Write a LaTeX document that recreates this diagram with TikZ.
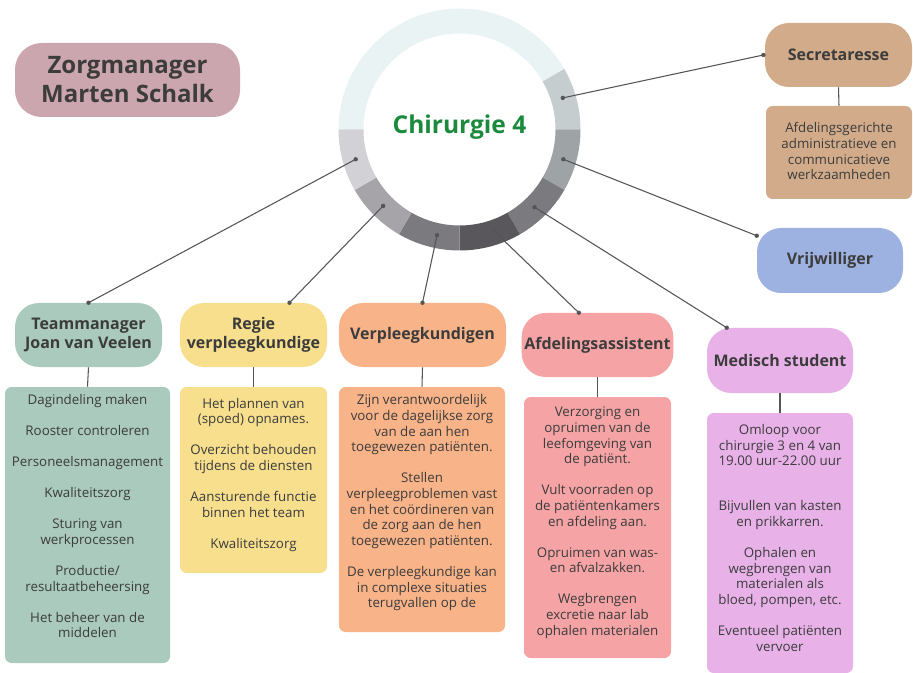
\documentclass[tikz,border=0pt]{standalone}
\usepackage{fontspec}
\setmainfont{Open Sans}
\definecolor{ringA}{HTML}{E9F3F4}
\definecolor{ringB}{HTML}{C6CDCF}
\definecolor{ringC}{HTML}{9EA3A6}
\definecolor{ringD}{HTML}{7A7A7F}
\definecolor{ringE}{HTML}{59575C}
\definecolor{ringF}{HTML}{7B7A7F}
\definecolor{ringG}{HTML}{A6A4A8}
\definecolor{ringH}{HTML}{D2D1D5}
\definecolor{zorgc}{HTML}{CCA6AE}
\definecolor{teamc}{HTML}{A9CABC}
\definecolor{regiec}{HTML}{F7DF8E}
\definecolor{verpc}{HTML}{F9B388}
\definecolor{afdc}{HTML}{F5A3A5}
\definecolor{medc}{HTML}{E8B2E9}
\definecolor{secc}{HTML}{D2AC8A}
\definecolor{vrijc}{HTML}{9EB2E1}
\definecolor{titlegreen}{HTML}{1B8A3C}
\definecolor{txt}{HTML}{3C3C3C}
\definecolor{linegray}{HTML}{555555}
\begin{document}
\begin{tikzpicture}[x=0.75pt, y=-0.75pt,
	head/.style={fill=#1, rounded corners=18pt, minimum width=110.25pt, minimum height=48pt,
		align=center, text=txt, inner sep=2pt, font=\bfseries\fontsize{12}{14.5}\selectfont},
	info/.style={fill=#1, rounded corners=5pt, inner sep=0pt},
	list/.style={align=center, text=txt, inner sep=0pt, font=\fontsize{10}{11.75}\selectfont},
	link/.style={draw=linegray, line width=0.8pt}]
	\useasboundingbox (0,0) rectangle (913,673);
	\begin{scope}[shift={(459.5,129.5)}]
		\fill[ringA] (180:121) arc[start angle=180, end angle=330, radius=121]
			-- (330:96) arc[start angle=330, end angle=180, radius=96] -- cycle;
		\foreach \a/\c [evaluate=\a as \b using \a+30] in {-30/ringB, 0/ringC, 30/ringD, 60/ringE, 90/ringF, 120/ringG, 150/ringH}
			\fill[\c] (\a:121) arc[start angle=\a, end angle=\b, radius=121]
				-- (\b:96) arc[start angle=\b, end angle=\a, radius=96] -- cycle;
		\node[text=titlegreen, font=\bfseries\fontsize{18.4}{21}\selectfont] (title) at (0,-2) {Chirurgie 4};
		\coordinate (rsec) at (-17:108);
		\coordinate (rvrij) at (16:108);
		\coordinate (rmed) at (46:108);
		\coordinate (rafd) at (71:108);
		\coordinate (rverp) at (102:108);
		\coordinate (rregie) at (135:108);
		\coordinate (rteam) at (164:108);
	\end{scope}
	\node[head=zorgc, minimum width=168.75pt, minimum height=55.5pt, rounded corners=20pt,
		font=\bfseries\fontsize{18}{21.75}\selectfont] (zorg) at (127.5,80) {Zorgmanager\\Marten Schalk};
	\node[head=teamc] (team) at (88.5,335) {Teammanager\\Joan van Veelen};
	\node[head=regiec] (regie) at (253.5,335) {Regie\\verpleegkundige};
	\node[head=verpc, minimum width=125.25pt] (verp) at (422.5,335) {Verpleegkundigen};
	\node[head=afdc] (afd) at (597.5,345) {Afdelingsassistent};
	\node[head=medc, minimum width=109.5pt, minimum height=48.75pt] (med) at (780,360.5) {Medisch student};
	\node[head=secc] (sec) at (838.5,55) {Secretaresse};
	\node[head=vrijc, minimum width=109.5pt, minimum height=48.75pt] (vrij) at (830,260.5) {Vrijwilliger};
	\node[info=teamc, minimum width=123.75pt, minimum height=207pt] (teamtxt) at (87.5,525) {};
	\node[info=regiec, minimum width=110.25pt, minimum height=139.5pt] (regietxt) at (253.5,480) {};
	\node[info=verpc, minimum width=124.5pt, minimum height=183.75pt] (verptxt) at (422,509.5) {};
	\node[info=afdc, minimum width=110.25pt, minimum height=195.75pt] (afdtxt) at (597.5,527.5) {};
	\node[info=medc, minimum width=109.5pt, minimum height=195pt] (medtxt) at (780,543) {};
	\node[info=secc, minimum width=109.5pt, minimum height=69.75pt] (sectxt) at (839,152.5) {};
	\node[list] (teamlist) at ([yshift=6.5pt]teamtxt.center)
		{Dagindeling maken\\[11.5pt]Rooster controleren\\[11.5pt]Personeelsmanagement\\[11.5pt]Kwaliteitszorg\\[11.5pt]Sturing van\\werkprocessen\\[11.5pt]Productie/\\resultaatbeheersing\\[11.5pt]Het beheer van de\\middelen};
	\node[list] (regielist) at ([yshift=4pt]regietxt.center)
		{Het plannen van\\(spoed) opnames.\\[11.5pt]Overzicht behouden\\tijdens de diensten\\[11.5pt]Aansturende functie\\binnen het team\\[11.5pt]Kwaliteitszorg};
	\node[list] (verplist) at ([yshift=5pt]verptxt.center)
		{Zijn verantwoordelijk\\voor de dagelijkse zorg\\van de aan hen\\toegewezen patiënten.\\[11.5pt]Stellen\\verpleegproblemen vast\\en het coördineren van\\de zorg aan de hen\\toegewezen patiënten.\\[11.5pt]De verpleegkundige kan\\in complexe situaties\\terugvallen op de};
	\node[list] (afdlist) at ([yshift=3.5pt]afdtxt.center)
		{Verzorging en\\opruimen van de\\leefomgeving van\\de patiënt.\\[11.5pt]Vult voorraden op\\de patiëntenkamers\\en afdeling aan.\\[11.5pt]Opruimen van was-\\en afvalzakken.\\[11.5pt]Wegbrengen\\excretie naar lab\\ophalen materialen};
	\node[list] (medlist) at ([yshift=4pt]medtxt.center)
		{Omloop voor\\chirurgie 3 en 4 van\\19.00 uur-22.00 uur\\[22pt]Bijvullen van kasten\\en prikkarren.\\[11.5pt]Ophalen en\\wegbrengen van\\materialen als\\bloed, pompen, etc.\\[11.5pt]Eventueel patiënten\\vervoer};
	\node[list] (seclist) at ([yshift=1pt]sectxt.center)
		{Afdelingsgerichte\\administratieve en\\communicatieve\\werkzaamheden};
	\coordinate (evrij) at ([yshift=-6pt]vrij.north west);
	\coordinate (eregie) at ([xshift=27pt]regie.north);
	\coordinate (eafd) at ([xshift=-14pt]afd.north);
	\coordinate (emed) at ([xshift=15pt]med.north west);
	\coordinate (esec) at ([xshift=-1pt]sec.west);
	\foreach \p/\q in {rsec/esec, rvrij/evrij, rmed/emed, rafd/eafd, rverp/verp.north, rregie/eregie, rteam/team.north} {
		\draw[link] (\p) -- (\q);
		\fill[linegray] (\p) circle[radius=2.2];
		\fill[linegray] (\q) circle[radius=2.2];
	}
	\foreach \h in {team, regie, verp, afd, med, sec}
		\draw[link] (\h.south) -- (\h txt.north);
\end{tikzpicture}
\end{document}
